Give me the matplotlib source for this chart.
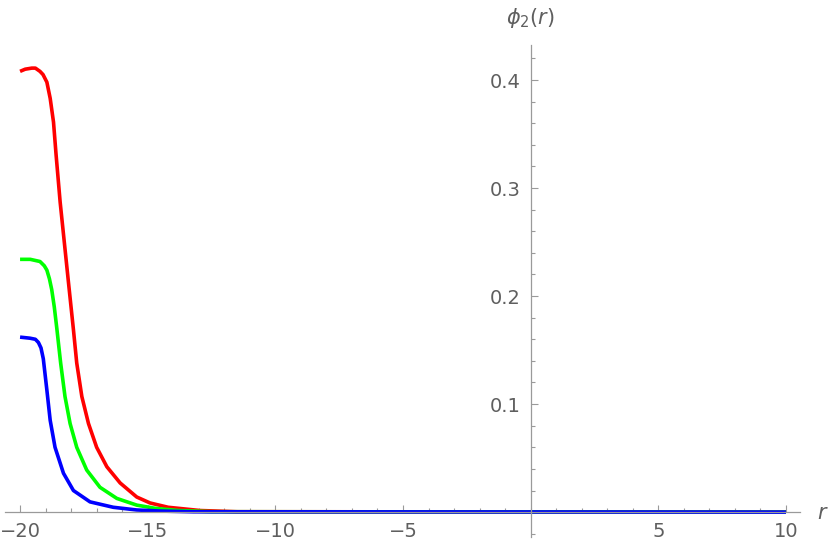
import numpy as np
import matplotlib
matplotlib.use("Agg")
import matplotlib.pyplot as plt
from matplotlib.ticker import MultipleLocator, FixedLocator

# values
red_r = [-20, -19.8, -19.54, -19.4, -19.22, -19.1, -18.95, -18.82, -18.69, -18.59, -18.43,
         -18.11, -17.91, -17.78, -17.58, -17.32, -17.0, -16.6, -16.08, -15.43, -14.91,
         -14.2, -12.95, -11.5, 10]
red_phi = [0.408, 0.410, 0.411, 0.411, 0.408, 0.405, 0.398, 0.383, 0.361, 0.331, 0.287,
           0.214, 0.169, 0.138, 0.107, 0.082, 0.060, 0.042, 0.027, 0.014, 0.0085,
           0.0045, 0.0015, 0.0004, 0.0]

green_r = [-20, -19.6, -19.22, -19.05, -18.95, -18.85, -18.76, -18.66, -18.56, -18.41, -18.24,
           -18.04, -17.78, -17.39, -16.87, -16.21, -15.43, -14.7, -13.8, -12.5, 10]
green_phi = [0.234, 0.234, 0.232, 0.228, 0.224, 0.216, 0.206, 0.190, 0.170, 0.138, 0.107,
             0.082, 0.060, 0.039, 0.023, 0.0127, 0.0065, 0.0035, 0.0015, 0.0004, 0.0]

blue_r = [-20, -19.61, -19.4, -19.28, -19.18, -19.09, -18.95, -18.82, -18.63, -18.3, -17.91,
          -17.26, -16.35, -15.43, -14.5, -13.2, 10]
blue_phi = [0.162, 0.161, 0.160, 0.157, 0.152, 0.142, 0.113, 0.085, 0.060, 0.036, 0.020,
            0.0095, 0.0045, 0.002, 0.001, 0.0003, 0.0]

x_major = [-20, -15, -10, -5, 5, 10]
y_major = [0.1, 0.2, 0.3, 0.4]

axis_col = "#9a9a9a"
text_col = "#5f5f5f"

fig = plt.figure(figsize=(8.3, 5.48), dpi=100)
ax = fig.add_axes([5 / 830, 0.0201, 795 / 830, 0.897])

for r, p, c in [(red_r, red_phi, "#ff0000"), (green_r, green_phi, "#00ff00"), (blue_r, blue_phi, "#0000ff")]:
    ax.plot(r, p, color=c, lw=2.6, solid_capstyle="butt", solid_joinstyle="round", zorder=2)

ax.set_xlim(-20.59, 10.55)
ax.set_ylim(-0.023, 0.432)

for s in ["top", "right"]:
    ax.spines[s].set_visible(False)
ax.spines["left"].set_position(("data", 0))
ax.spines["bottom"].set_position(("data", 0))
for s in ["left", "bottom"]:
    ax.spines[s].set_color(axis_col)
    ax.spines[s].set_linewidth(0.9)
    ax.spines[s].set_zorder(3)

ax.xaxis.set_major_locator(FixedLocator(x_major))
ax.xaxis.set_minor_locator(MultipleLocator(1))
ax.yaxis.set_major_locator(FixedLocator(y_major))
ax.yaxis.set_minor_locator(MultipleLocator(0.02))
ax.set_xticklabels(["\u221220", "\u221215", "\u221210", "\u22125", "5", "10"])
ax.set_yticklabels(["0.1", "0.2", "0.3", "0.4"])

ax.tick_params(which="both", direction="in", color=axis_col, width=0.8,
               labelcolor=text_col, labelsize=14)
ax.tick_params(which="major", length=5)
ax.tick_params(which="minor", length=3)
ax.tick_params(axis="x", pad=7)
ax.tick_params(axis="y", pad=7)

fig.text(823 / 830, 1 - 513 / 548, r"$r$", color=text_col, fontsize=15, ha="center", va="center")
fig.text(530 / 830, 1 - 18 / 548, r"$\phi_2(r)$", color=text_col, fontsize=15, ha="center", va="center")

fig.savefig("out.png", dpi=100)
